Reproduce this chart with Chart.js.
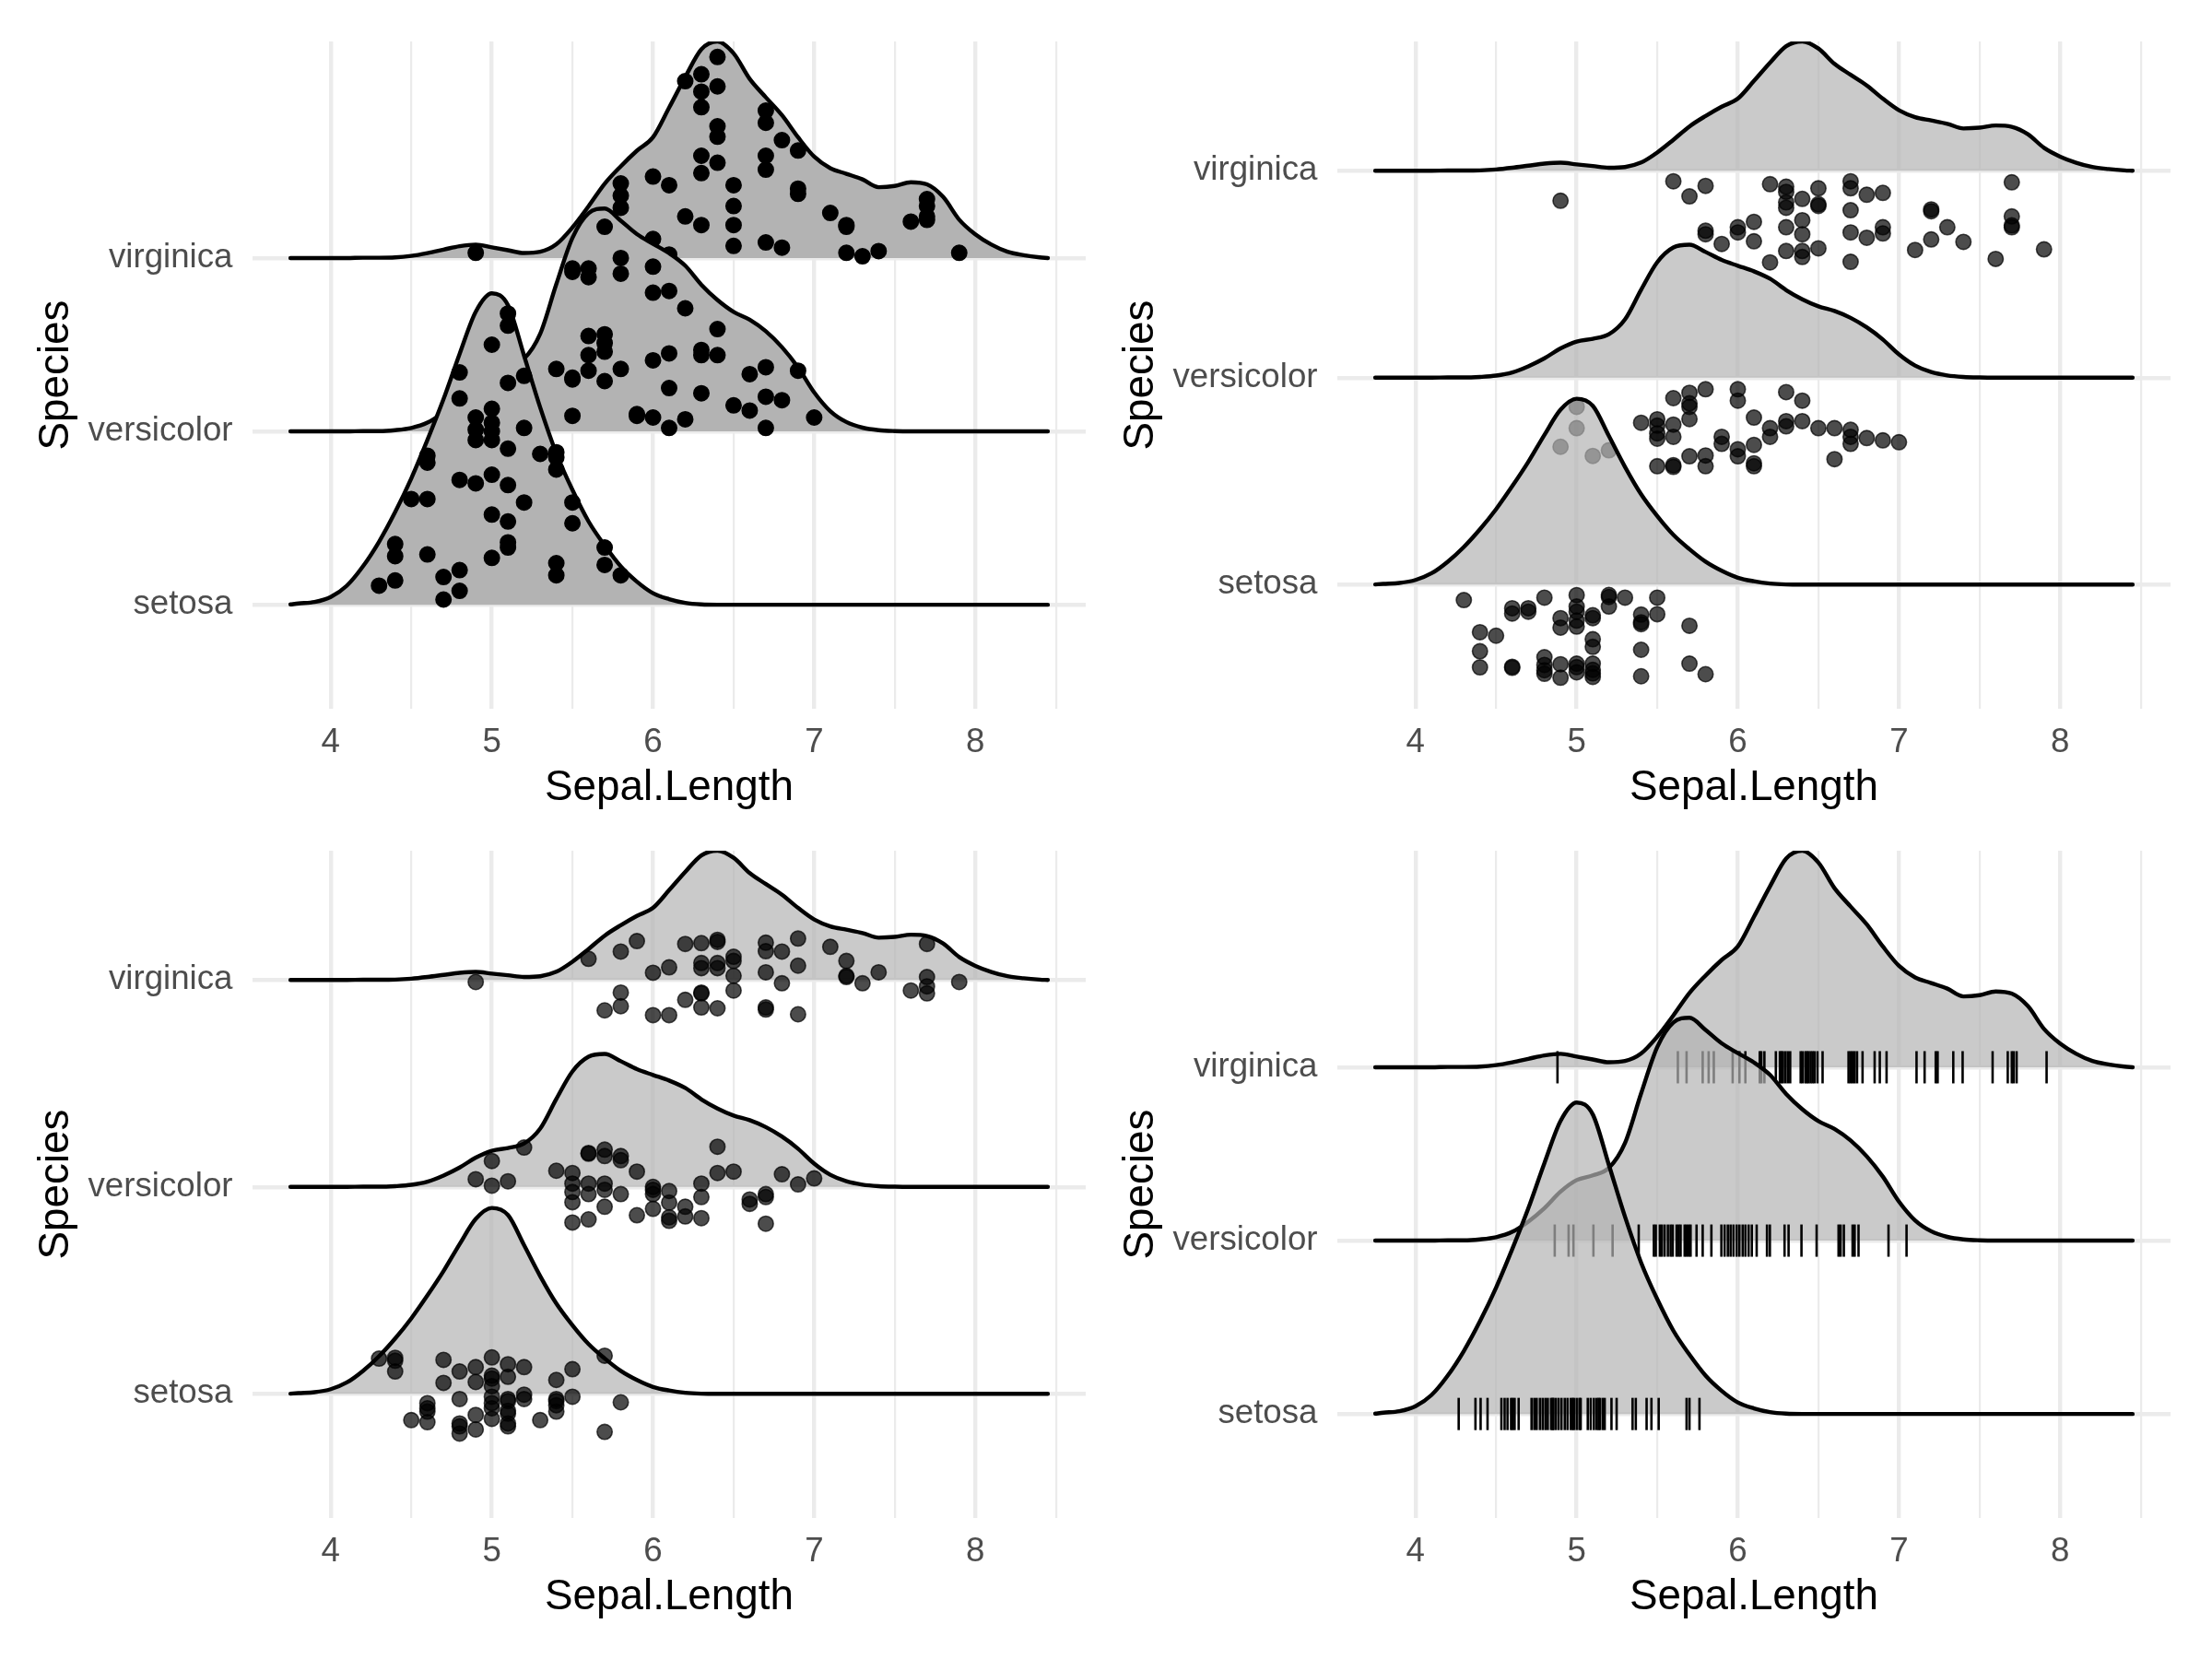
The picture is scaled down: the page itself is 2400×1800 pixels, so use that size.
<!DOCTYPE html>
<html>
<head>
<meta charset="utf-8">
<title>Sepal.Length ridgelines</title>
<script src="https://cdn.jsdelivr.net/npm/chart.js@4.4.1/dist/chart.umd.min.js"></script>
<style>
  html, body { margin: 0; padding: 0; background: #ffffff; }
  #page { position: relative; width: 2400px; height: 1800px; overflow: hidden; background: #ffffff; }
  .panel { position: absolute; }
</style>
</head>
<body>
<div id="page">
  <canvas id="p1" class="panel" width="1200" height="900" style="left:0px;top:0px"></canvas>
  <canvas id="p2" class="panel" width="1200" height="900" style="left:1177px;top:0px"></canvas>
  <canvas id="p3" class="panel" width="1200" height="900" style="left:0px;top:878px"></canvas>
  <canvas id="p4" class="panel" width="1200" height="900" style="left:1177px;top:878px"></canvas>
</div>
<script>
var species = ['setosa', 'versicolor', 'virginica'];
var tickValues = [4, 5, 6, 7, 8];
var gridBreaks = [4, 4.5, 5, 5.5, 6, 6.5, 7, 7.5, 8, 8.5];

// density heights (setosa peak = 1)
var densX = [3.75, 3.8, 3.9, 4.0, 4.1, 4.2, 4.3, 4.4, 4.5, 4.6, 4.7, 4.8, 4.9, 5.0, 5.1, 5.2, 5.3, 5.4, 5.5, 5.6,
  5.7, 5.8, 5.9, 6.0, 6.1, 6.2, 6.3, 6.4, 6.5, 6.6, 6.7, 6.8, 6.9, 7.0, 7.1, 7.2, 7.3, 7.4, 7.5, 7.6,
  7.7, 7.8, 7.9, 8.0, 8.1, 8.2, 8.3, 8.4, 8.45];
var densSetosa = [0.001, 0.004, 0.009, 0.025, 0.061, 0.123, 0.202, 0.297, 0.405, 0.528, 0.659, 0.804, 0.939, 0.998, 0.960, 0.798, 0.632, 0.485, 0.368, 0.267,
  0.190, 0.123, 0.074, 0.037, 0.018, 0.006, 0.001, 0, 0, 0, 0, 0, 0, 0, 0, 0, 0, 0, 0, 0,
  0, 0, 0, 0, 0, 0, 0, 0, 0];
var densVersicolor = [0, 0, 0, 0, 0, 0.001, 0.001, 0.004, 0.011, 0.028, 0.061, 0.104, 0.157, 0.194, 0.209, 0.233, 0.313, 0.472, 0.620, 0.699,
  0.714, 0.675, 0.632, 0.601, 0.571, 0.531, 0.470, 0.421, 0.383, 0.358, 0.321, 0.270, 0.205, 0.125, 0.065, 0.030, 0.012, 0.004, 0.001, 0,
  0, 0, 0, 0, 0, 0, 0, 0, 0];
var densVirginica = [0, 0, 0, 0, 0, 0.001, 0.001, 0.002, 0.007, 0.016, 0.027, 0.038, 0.043, 0.034, 0.025, 0.016, 0.020, 0.044, 0.098, 0.166,
  0.238, 0.294, 0.344, 0.387, 0.482, 0.580, 0.669, 0.694, 0.656, 0.574, 0.515, 0.458, 0.387, 0.325, 0.288, 0.270, 0.252, 0.227, 0.231, 0.243,
  0.236, 0.196, 0.123, 0.076, 0.043, 0.020, 0.009, 0.002, 0];

// Sepal.Length per species (sorted)
var sepalSetosa = [4.3, 4.4, 4.4, 4.4, 4.5, 4.6, 4.6, 4.6, 4.6, 4.7, 4.7, 4.8, 4.8, 4.8, 4.8, 4.8, 4.9, 4.9, 4.9, 4.9,
  5.0, 5.0, 5.0, 5.0, 5.0, 5.0, 5.0, 5.0, 5.1, 5.1, 5.1, 5.1, 5.1, 5.1, 5.1, 5.1, 5.2, 5.2, 5.2, 5.3,
  5.4, 5.4, 5.4, 5.4, 5.4, 5.5, 5.5, 5.7, 5.7, 5.8];
var sepalVersicolor = [4.9, 5.0, 5.0, 5.1, 5.2, 5.4, 5.5, 5.5, 5.5, 5.5, 5.5, 5.6, 5.6, 5.6, 5.6, 5.6, 5.7, 5.7, 5.7, 5.7,
  5.7, 5.8, 5.8, 5.8, 5.9, 5.9, 6.0, 6.0, 6.0, 6.0, 6.1, 6.1, 6.1, 6.1, 6.2, 6.2, 6.3, 6.3, 6.3, 6.4,
  6.4, 6.5, 6.6, 6.6, 6.7, 6.7, 6.7, 6.8, 6.9, 7.0];
var sepalVirginica = [4.9, 5.6, 5.7, 5.8, 5.8, 5.8, 5.9, 6.0, 6.0, 6.1, 6.1, 6.2, 6.2, 6.3, 6.3, 6.3, 6.3, 6.3, 6.3, 6.4,
  6.4, 6.4, 6.4, 6.4, 6.5, 6.5, 6.5, 6.5, 6.7, 6.7, 6.7, 6.7, 6.7, 6.8, 6.8, 6.9, 6.9, 6.9, 7.1, 7.2,
  7.2, 7.2, 7.3, 7.4, 7.6, 7.7, 7.7, 7.7, 7.7, 7.9];

// panel 1: heights of the points inside each ridge (rows above the baseline)
var sinaSetosa = [0.11, 0.35, 0.28, 0.14, 0.61, 0.86, 0.82, 0.61, 0.29, 0.16, 0.03, 1.34, 1.19, 0.72, 0.20, 0.08, 1.08, 1.01, 0.95, 0.70,
  1.50, 1.13, 1.05, 1.00, 0.95, 0.75, 0.52, 0.27, 1.68, 1.61, 1.28, 0.90, 0.69, 0.48, 0.36, 0.33, 1.32, 1.02, 0.59, 0.87,
  0.88, 0.85, 0.78, 0.24, 0.17, 0.59, 0.47, 0.33, 0.23, 0.17];
var sinaVersicolor = [0.13, 0.22, 0.07, 0.15, 0.26, 0.36, 0.94, 0.92, 0.31, 0.30, 0.09, 0.94, 0.89, 0.55, 0.44, 0.35, 1.18, 0.56, 0.51, 0.46,
  0.29, 1.00, 0.91, 0.36, 0.10, 0.09, 0.95, 0.80, 0.41, 0.08, 0.81, 0.45, 0.25, 0.02, 0.71, 0.07, 0.47, 0.44, 0.22, 0.59,
  0.44, 0.15, 0.33, 0.12, 0.37, 0.20, 0.02, 0.18, 0.35, 0.08];
var sinaVirginica = [0.03, 0.10, 0.14, 0.43, 0.36, 0.29, 0.08, 0.47, 0.11, 0.42, 0.02, 1.02, 0.24, 1.06, 0.96, 0.87, 0.59, 0.49, 0.19, 1.16,
  0.99, 0.76, 0.70, 0.55, 0.42, 0.30, 0.19, 0.07, 0.85, 0.78, 0.59, 0.51, 0.09, 0.68, 0.06, 0.62, 0.40, 0.37, 0.26, 0.19,
  0.18, 0.03, 0.01, 0.04, 0.21, 0.34, 0.30, 0.24, 0.22, 0.03];

// panel 2: raincloud drop below the baseline (rows)
var rainSetosa = [0.075, 0.230, 0.322, 0.400, 0.247, 0.114, 0.140, 0.397, 0.402, 0.114, 0.131, 0.063, 0.351, 0.388, 0.414, 0.431, 0.162, 0.208, 0.385, 0.450,
  0.051, 0.106, 0.131, 0.174, 0.203, 0.382, 0.399, 0.424, 0.148, 0.162, 0.264, 0.301, 0.382, 0.412, 0.429, 0.446, 0.050, 0.060, 0.106, 0.063,
  0.145, 0.182, 0.191, 0.315, 0.443, 0.063, 0.143, 0.199, 0.382, 0.433];
var rainVersicolor = [0.334, 0.141, 0.244, 0.378, 0.351, 0.218, 0.201, 0.232, 0.269, 0.295, 0.428, 0.099, 0.227, 0.286, 0.423, 0.431, 0.073, 0.124, 0.141, 0.200,
  0.380, 0.056, 0.376, 0.428, 0.286, 0.320, 0.056, 0.111, 0.346, 0.380, 0.193, 0.325, 0.414, 0.428, 0.244, 0.286, 0.070, 0.210, 0.235, 0.111,
  0.210, 0.244, 0.244, 0.394, 0.252, 0.286, 0.320, 0.292, 0.303, 0.312];
var rainVirginica = [0.145, 0.051, 0.124, 0.073, 0.290, 0.307, 0.354, 0.273, 0.298, 0.247, 0.341, 0.065, 0.443, 0.077, 0.102, 0.153, 0.179, 0.273, 0.388, 0.136,
  0.239, 0.307, 0.388, 0.417, 0.085, 0.162, 0.170, 0.375, 0.051, 0.085, 0.191, 0.298, 0.440, 0.116, 0.324, 0.107, 0.273, 0.303, 0.383, 0.187,
  0.196, 0.332, 0.273, 0.344, 0.426, 0.056, 0.221, 0.264, 0.273, 0.380];

// panel 3: vertical jitter around the baseline (rows, up is positive)
var jitSetosa = [0.170, 0.174, 0.160, 0.108, -0.127, -0.045, -0.070, -0.086, -0.137, 0.164, 0.053, 0.108, -0.025, -0.143, -0.157, -0.192, 0.129, 0.057, -0.102, -0.172,
  0.176, 0.088, 0.074, 0.037, -0.014, -0.045, -0.070, -0.121, 0.143, 0.082, -0.025, -0.035, -0.082, -0.096, -0.143, -0.157, 0.129, -0.004, -0.025, -0.127,
  0.067, -0.025, -0.035, -0.055, -0.086, 0.119, -0.014, 0.184, -0.184, -0.041];
var jitVersicolor = [0.037, 0.125, 0.006, 0.027, 0.190, 0.078, 0.067, 0.016, -0.025, -0.074, -0.172, 0.164, 0.160, 0.016, -0.035, -0.157, 0.180, 0.149, 0.016, -0.014,
  -0.096, 0.149, 0.129, -0.035, 0.074, -0.137, 0.000, -0.014, -0.035, -0.106, -0.020, -0.076, -0.147, -0.164, -0.096, -0.143, 0.016, -0.049, -0.151, 0.194,
  0.067, 0.074, -0.061, -0.082, -0.035, -0.049, -0.178, 0.061, 0.012, 0.041];
var jitVirginica = [-0.010, 0.102, -0.147, 0.137, -0.061, -0.127, 0.188, 0.035, -0.170, 0.061, -0.170, 0.174, -0.096, 0.178, 0.082, 0.057, -0.061, -0.065, -0.133, 0.194,
  0.184, 0.082, 0.057, -0.137, 0.112, 0.092, 0.020, -0.051, 0.180, 0.139, 0.037, -0.133, -0.143, 0.137, -0.016, 0.200, 0.069, -0.166, 0.160, 0.092,
  0.020, 0.014, -0.016, 0.037, -0.051, 0.174, 0.014, -0.031, -0.065, -0.010];

// panel 4: rug ticks, x as drawn (slightly jittered)
var rugSetosa = [4.268, 4.372, 4.404, 4.447, 4.533, 4.553, 4.571, 4.593, 4.603, 4.615, 4.640, 4.720, 4.737, 4.752, 4.772, 4.789, 4.806, 4.821, 4.841, 4.851,
  4.856, 4.871, 4.888, 4.906, 4.926, 4.943, 4.963, 4.975, 4.983, 5.000, 5.017, 5.025, 5.069, 5.087, 5.107, 5.124, 5.136, 5.144, 5.161, 5.174,
  5.216, 5.248, 5.347, 5.367, 5.434, 5.464, 5.509, 5.682, 5.700, 5.762];
var rugVersicolor = [4.864, 4.950, 4.980, 5.104, 5.223, 5.385, 5.479, 5.491, 5.516, 5.529, 5.546, 5.566, 5.583, 5.596, 5.620, 5.633, 5.645, 5.670, 5.682, 5.695,
  5.707, 5.744, 5.782, 5.836, 5.898, 5.918, 5.938, 5.955, 5.973, 5.993, 6.010, 6.030, 6.047, 6.067, 6.087, 6.117, 6.181, 6.199, 6.290, 6.315,
  6.395, 6.489, 6.625, 6.638, 6.658, 6.712, 6.725, 6.749, 6.935, 7.047];
var rugVirginica = [4.881, 5.628, 5.682, 5.782, 5.819, 5.851, 5.968, 6.010, 6.047, 6.136, 6.146, 6.165, 6.236, 6.261, 6.270, 6.280, 6.295, 6.310, 6.325, 6.390,
  6.402, 6.419, 6.429, 6.439, 6.452, 6.464, 6.476, 6.494, 6.526, 6.687, 6.700, 6.712, 6.725, 6.740, 6.774, 6.849, 6.881, 6.923, 7.109, 7.159,
  7.228, 7.240, 7.337, 7.395, 7.581, 7.675, 7.700, 7.712, 7.730, 7.916];

var dens = [densSetosa, densVersicolor, densVirginica];
var sepal = [sepalSetosa, sepalVersicolor, sepalVirginica];
var sina = [sinaSetosa, sinaVersicolor, sinaVirginica];
var rain = [rainSetosa, rainVersicolor, rainVirginica];
var jit = [jitSetosa, jitVersicolor, jitVirginica];
var rugs = [rugSetosa, rugVersicolor, rugVirginica];

var FONT = 'Liberation Sans, Arial, sans-serif';

function ridge(d, base, scale, fillColor, order) {
  var pts = [];
  for (var i = 0; i < densX.length; i++) {
    pts.push({ x: densX[i], y: base + d[i] * scale });
  }
  return {
    type: 'line',
    data: pts,
    borderColor: '#000000',
    borderWidth: 4.4,
    borderCapStyle: 'round',
    borderJoinStyle: 'round',
    backgroundColor: fillColor,
    fill: { value: base },
    pointRadius: 0,
    cubicInterpolationMode: 'monotone',
    order: order
  };
}

function dots(xs, offs, base, sign, color, order) {
  var pts = [];
  for (var i = 0; i < xs.length; i++) {
    pts.push({ x: xs[i], y: base + sign * offs[i] });
  }
  return {
    type: 'scatter',
    data: pts,
    pointRadius: 8.2,
    pointBorderWidth: 1.6,
    pointBackgroundColor: color,
    pointBorderColor: color,
    order: order
  };
}

function rug(xs, base, order) {
  var pts = [];
  for (var i = 0; i < xs.length; i++) {
    pts.push({ x: xs[i], y: base });
  }
  return {
    type: 'scatter',
    data: pts,
    pointStyle: 'line',
    pointRotation: 90,
    pointRadius: 17.5,
    pointBorderWidth: 2.6,
    pointBorderColor: '#000000',
    order: order
  };
}

function panelOptions(yTop) {
  return {
    responsive: false,
    animation: false,
    devicePixelRatio: 1,
    layout: { padding: { top: 45, right: 22, left: 0, bottom: 0 } },
    plugins: { legend: { display: false }, tooltip: { enabled: false } },
    scales: {
      x: {
        type: 'linear',
        bounds: 'data',
        min: 3.515,
        max: 8.685,
        afterBuildTicks: function (s) {
          s.ticks = gridBreaks.map(function (v) { return { value: v }; });
        },
        afterFit: function (s) { s.height = 131; },
        border: { display: false },
        grid: {
          color: '#EBEBEB',
          drawTicks: false,
          lineWidth: function (c) {
            return (c.tick && tickValues.indexOf(c.tick.value) >= 0) ? 4.4 : 2.2;
          }
        },
        ticks: {
          autoSkip: false,
          maxRotation: 0,
          padding: 15,
          color: '#4D4D4D',
          font: { family: FONT, size: 36.7 },
          callback: function (v) { return tickValues.indexOf(v) >= 0 ? String(v) : ''; }
        },
        title: {
          display: true,
          text: 'Sepal.Length',
          color: '#000000',
          font: { family: FONT, size: 45.8 },
          padding: { top: 0, bottom: 17 }
        }
      },
      y: {
        type: 'linear',
        bounds: 'data',
        min: 0.4,
        max: yTop,
        afterBuildTicks: function (s) {
          s.ticks = [1, 2, 3].map(function (v) { return { value: v }; });
        },
        afterFit: function (s) { s.width = 274; },
        border: { display: false },
        grid: { color: '#EBEBEB', drawTicks: false, lineWidth: 4.4 },
        ticks: {
          padding: 21.5,
          color: '#4D4D4D',
          font: { family: FONT, size: 36.7 },
          callback: function (v) { return species[v - 1]; }
        },
        title: {
          display: true,
          text: 'Species',
          color: '#000000',
          font: { family: FONT, size: 45.8 },
          padding: { top: 33.5, bottom: 0 }
        }
      }
    }
  };
}

function buildPanel(id, scale, fillColor, marks) {
  var datasets = [];
  var top = 0;
  for (var s = 2; s >= 0; s--) {
    var base = s + 1;
    datasets.push(ridge(dens[s], base, scale, fillColor, 2 * s + 2));
    datasets.push(marks(s, base, 2 * s + 1));
    top = Math.max(top, base + Math.max.apply(null, dens[s]) * scale);
  }
  return new Chart(document.getElementById(id), {
    type: 'scatter',
    data: { datasets: datasets },
    options: panelOptions(top)
  });
}

// top left: points inside the ridges
buildPanel('p1', 1.8, '#B3B3B3', function (s, base, order) {
  return dots(sepal[s], sina[s], base, 1, '#000000', order);
});
// top right: raincloud below each ridge
buildPanel('p2', 0.9, 'rgba(179,179,179,0.7)', function (s, base, order) {
  return dots(sepal[s], rain[s], base, -1, 'rgba(0,0,0,0.7)', order);
});
// bottom left: jittered around the baseline
buildPanel('p3', 0.9, 'rgba(179,179,179,0.7)', function (s, base, order) {
  return dots(sepal[s], jit[s], base, 1, 'rgba(0,0,0,0.7)', order);
});
// bottom right: rug ticks
buildPanel('p4', 1.8, 'rgba(179,179,179,0.7)', function (s, base, order) {
  return rug(rugs[s], base, order);
});
</script>
</body>
</html>
